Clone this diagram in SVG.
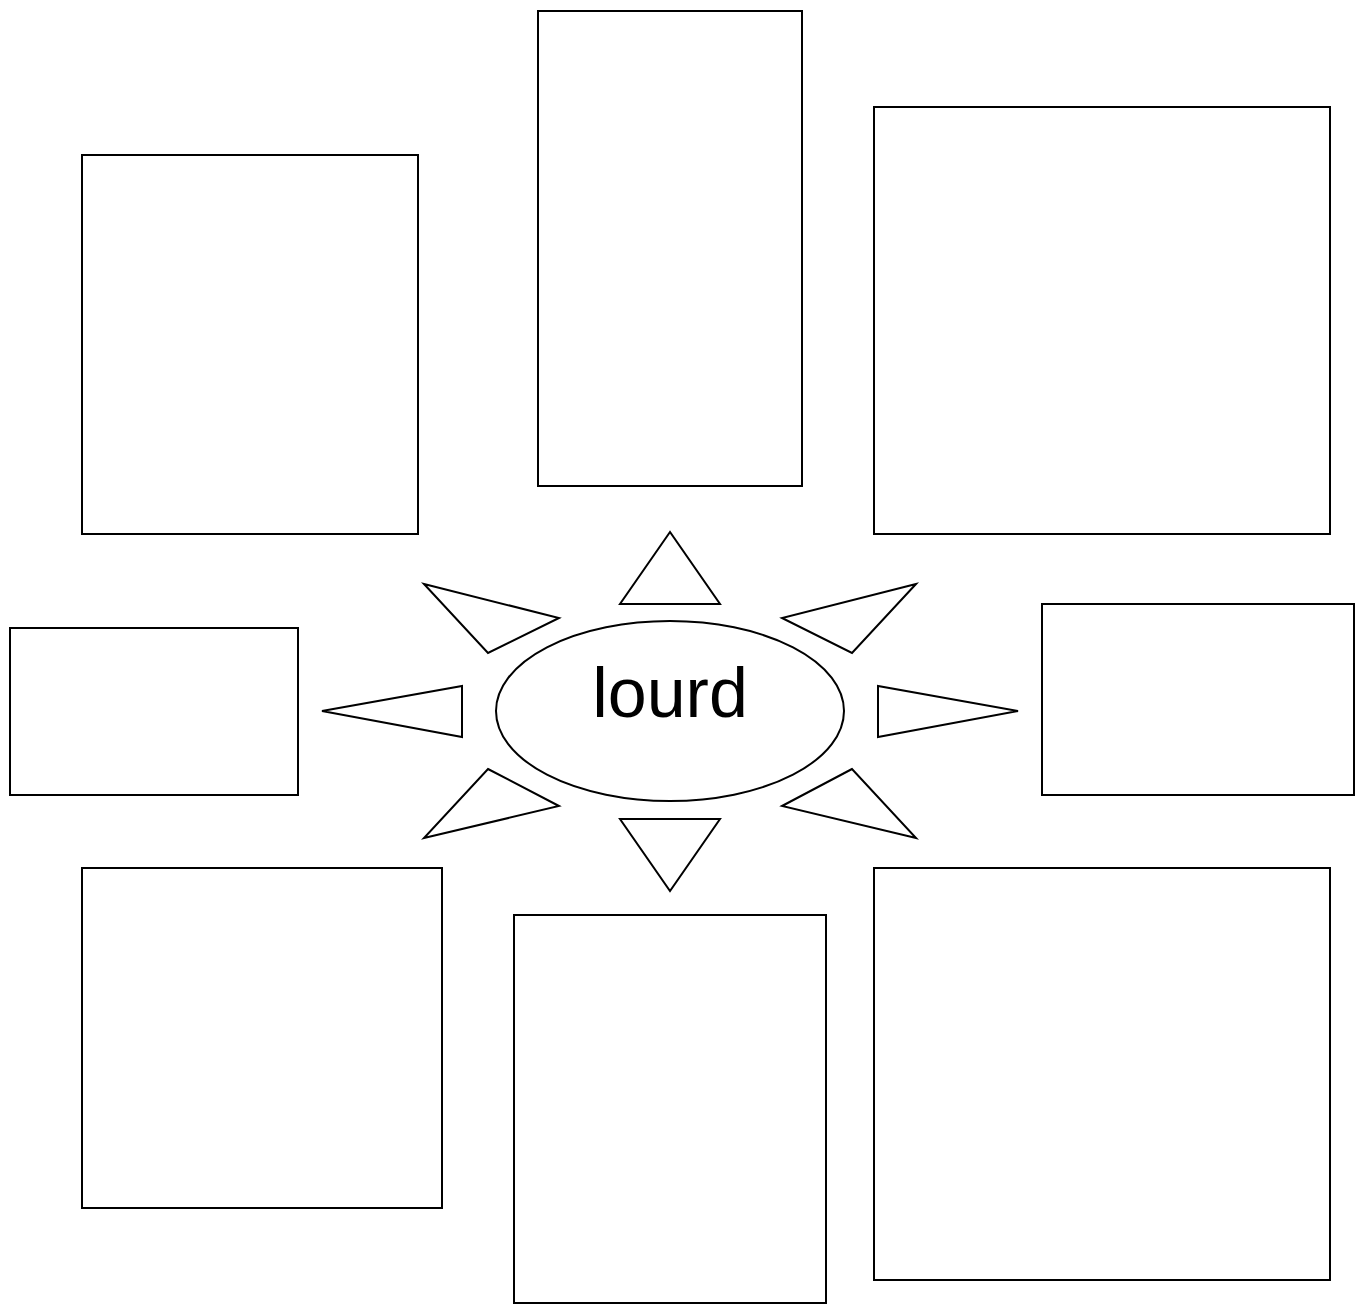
<svg xmlns="http://www.w3.org/2000/svg" width="1362" height="1304" viewBox="0 0 1362 1304">
<style>
.b{fill:#fff;stroke:#000;stroke-width:2}
.t{fill:#fff;stroke:#000;stroke-width:2;stroke-linejoin:miter}
.lbl{font-family:"Liberation Sans",Arial,sans-serif;font-size:70px;fill:#000}
</style>
<rect width="1362" height="1304" fill="#fff"/>
<g id="box-top-left"><rect class="b" x="82" y="155" width="336" height="379"/></g>
<g id="box-top"><rect class="b" x="538" y="11" width="264" height="475"/></g>
<g id="box-top-right"><rect class="b" x="874" y="107" width="456" height="427"/></g>
<g id="box-left"><rect class="b" x="10" y="628" width="288" height="167"/></g>
<g id="box-right"><rect class="b" x="1042" y="604" width="312" height="191"/></g>
<g id="box-bottom-left"><rect class="b" x="82" y="868" width="360" height="340"/></g>
<g id="box-bottom"><rect class="b" x="514" y="915" width="312" height="388"/></g>
<g id="box-bottom-right"><rect class="b" x="874" y="868" width="456" height="412"/></g>
<g id="center">
<ellipse class="b" cx="670" cy="711" rx="174" ry="90"/>
<text class="lbl" x="670" y="717" text-anchor="middle">lourd</text>
</g>
<g id="connectors">
<polygon class="t" points="670,532 620,604 720,604"/>
<polygon class="t" points="424,584 559,618 488,653"/>
<polygon class="t" points="916,584 782,618 852,653"/>
<polygon class="t" points="322,711 462,686 462,737"/>
<polygon class="t" points="1018,711 878,686 878,737"/>
<polygon class="t" points="488,769 559,806 424,838"/>
<polygon class="t" points="852,769 782,806 916,838"/>
<polygon class="t" points="620,819 720,819 670,891"/>
</g>
</svg>
